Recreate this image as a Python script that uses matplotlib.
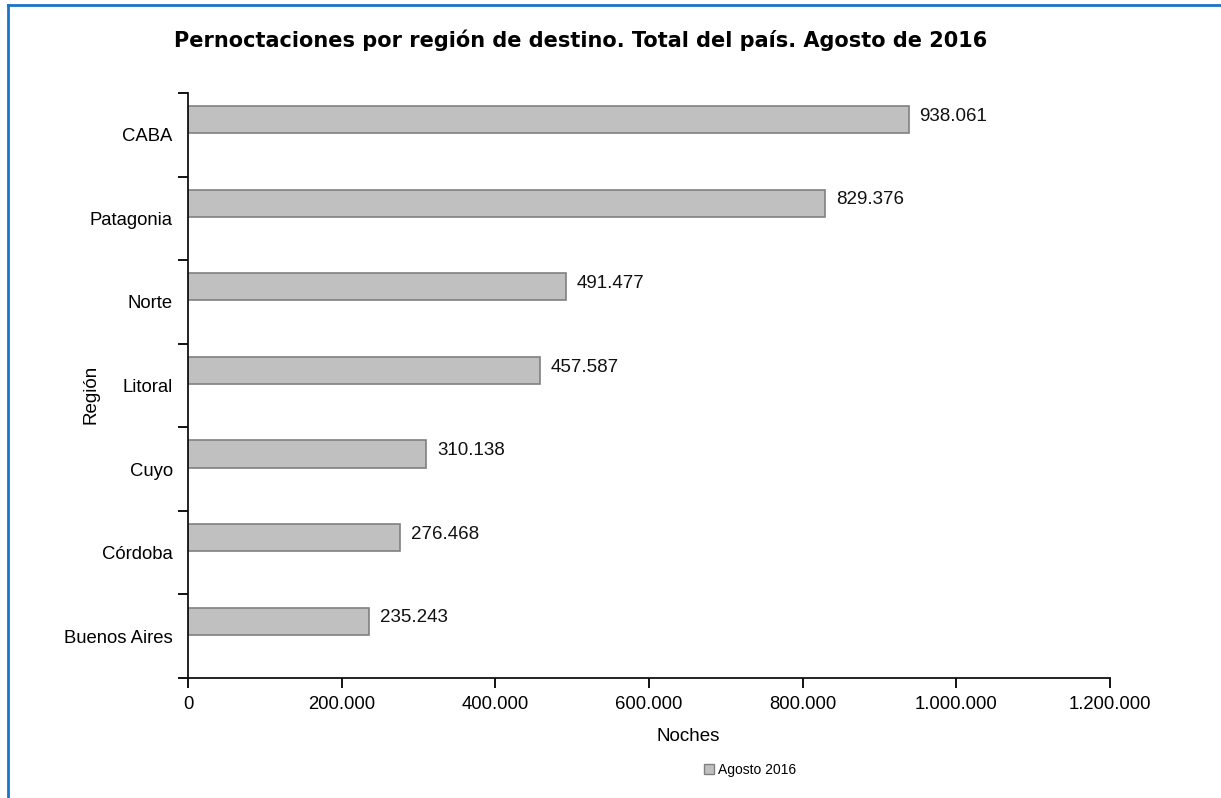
import matplotlib
matplotlib.use("Agg")
import matplotlib.pyplot as plt
from matplotlib.lines import Line2D
from matplotlib.patches import Patch
from matplotlib.ticker import FuncFormatter, FixedLocator

regions = ["Buenos Aires", "Córdoba", "Cuyo", "Litoral", "Norte", "Patagonia", "CABA"]
noches = [235243, 276468, 310138, 457587, 491477, 829376, 938061]
series_name = "Agosto 2016"
title = "Pernoctaciones por región de destino. Total del país. Agosto de 2016"
x_ticks = [0, 200000, 400000, 600000, 800000, 1000000, 1200000]

plt.rcParams['font.family'] = ['Liberation Sans', 'DejaVu Sans']

def fmt(v):
    return f"{int(v):,}".replace(",", ".")

W, H = 1221, 798
fig = plt.figure(figsize=(W / 100, H / 100), dpi=100)
ax = fig.add_axes([188 / W, 1 - 678 / H, (1110 - 188) / W, (678 - 93) / H])

pos = list(range(len(regions)))
bar_h = 0.325
bar_pos = [p + 0.18 for p in pos]
ax.barh(bar_pos, noches, height=bar_h, color="#c0c0c0", edgecolor="#808080", linewidth=1.2, label=series_name)

for y, v in zip(bar_pos, noches):
    ax.text(v + 14000, y + 0.04, fmt(v), va="center", ha="left", fontsize=13.5, color="#111111")

ax.set_xlim(0, 1200000)
ax.set_ylim(-0.5, len(regions) - 0.5)
ax.set_xticks(x_ticks)
ax.xaxis.set_major_formatter(FuncFormatter(lambda v, p: fmt(v)))
ax.set_yticks(pos)
ax.set_yticklabels(regions)
ax.yaxis.set_minor_locator(FixedLocator([p - 0.5 for p in pos] + [len(regions) - 0.5]))
ax.tick_params(axis="y", which="major", length=0, pad=11, labelsize=13.3)
ax.tick_params(axis="y", which="minor", length=7, width=1.3, direction="out")
ax.tick_params(axis="x", which="major", length=7, width=1.3, direction="out", pad=6, labelsize=13.3)

for s in ["top", "right"]:
    ax.spines[s].set_visible(False)
for s in ["left", "bottom"]:
    ax.spines[s].set_linewidth(1.3)
    ax.spines[s].set_color("#111111")

ax.set_xlabel("Noches", fontsize=13.5)
ax.xaxis.set_label_coords((688 - 188) / 922, -0.085)
ax.set_ylabel("Región", fontsize=13.5)
ax.yaxis.set_label_coords(-0.0965, 0.485)

fig.text(581 / W, 1 - 40 / H, title, ha="center", va="center", fontsize=15, fontweight="bold",
         family=["DejaVu Sans"])

leg = fig.legend(handles=[Patch(facecolor="#c0c0c0", edgecolor="#808080", label=series_name)],
                 loc="center", bbox_to_anchor=(750 / W, 1 - 770 / H), frameon=False, fontsize=10,
                 handlelength=0.7, handleheight=0.7, handletextpad=0.3)

blue = "#1a75c9"
fig.add_artist(Line2D([8 / W, 1], [1 - 5 / H, 1 - 5 / H], transform=fig.transFigure, color=blue, linewidth=2))
fig.add_artist(Line2D([8 / W, 8 / W], [0, 1 - 5 / H], transform=fig.transFigure, color=blue, linewidth=2))

fig.savefig("out.png", dpi=100)
